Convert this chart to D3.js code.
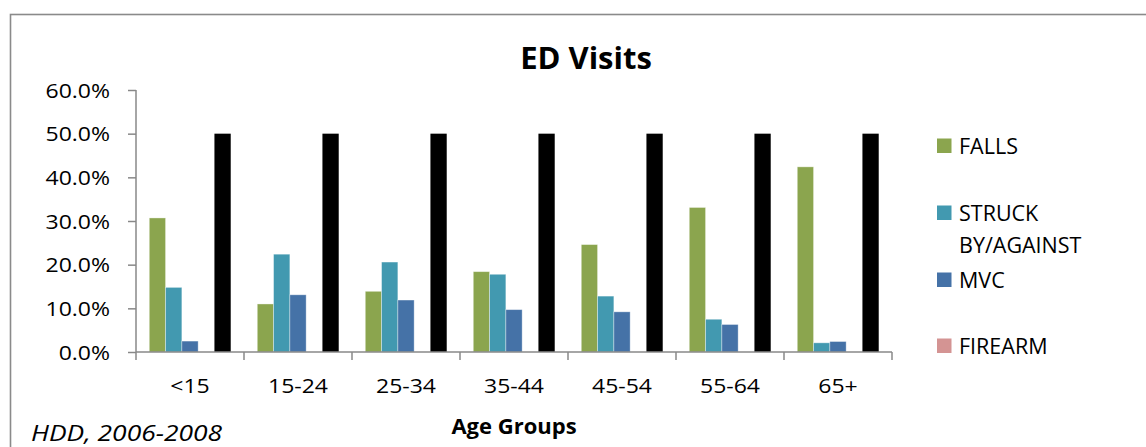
<!DOCTYPE html>
<html>
<head>
<meta charset="utf-8">
<script src="https://cdn.jsdelivr.net/npm/d3@7"></script>
<style>
  html, body { margin: 0; padding: 0; background: #fff; }
  svg { display: block; }
  text { font-family: "Open Sans", sans-serif; fill: #000; }
</style>
</head>
<body>
<svg id="chart" width="1146" height="447"></svg>
<script>
// ---- data ----
const categories = ["<15", "15-24", "25-34", "35-44", "45-54", "55-64", "65+"];
const falls   = [30.7, 11.0, 13.9, 18.4, 24.6, 33.1, 42.4];
const struck  = [14.8, 22.4, 20.6, 17.8, 12.8,  7.5,  2.1];
const mvc     = [ 2.5, 13.1, 11.9,  9.7,  9.2,  6.3,  2.4];
const firearm = [ 0,    0,    0,    0,    0,    0,    0  ];
const series5 = [50,   50,   50,   50,   50,   50,   50  ];
const seriesNames  = ["FALLS", "STRUCK BY/AGAINST", "MVC", "FIREARM", "Series5"];
const legendNames  = ["FALLS", "STRUCK BY/AGAINST", "MVC", "FIREARM"];
const yTicks = [0, 10, 20, 30, 40, 50, 60];
const titleText = "ED Visits";
const xTitleText = "Age Groups";
const sourceText = "HDD, 2006-2008";

// ---- style ----
const colors = ["#8BA54E", "#4299B0", "#4572A7", "#D49493", "#000000"];
const axisColor = "#888888";

const svg = d3.select("#chart");
const plot = { left: 136, right: 892, top: 90, bottom: 352 };

// outer frame (partially visible)
svg.append("rect")
  .attr("x", 10.5).attr("y", 14.5)
  .attr("width", 1300).attr("height", 600)
  .attr("fill", "none").attr("stroke", "#8a8a8a").attr("stroke-width", 1.6);

const x0 = d3.scaleBand().domain(categories).range([plot.left, plot.right]).padding(0);
const x1 = d3.scaleBand().domain(seriesNames).range([0, x0.bandwidth()])
  .paddingInner(0).paddingOuter(0.815);
const y = d3.scaleLinear().domain([0, 60]).range([plot.bottom, plot.top]);

const allSeries = [falls, struck, mvc, firearm, series5];

// bars
const groups = svg.append("g").selectAll("g")
  .data(categories).join("g")
  .attr("transform", d => `translate(${x0(d)},0)`);

groups.selectAll("rect")
  .data((c, i) => seriesNames.map((s, k) => ({ s, k, v: allSeries[k][i] })))
  .join("rect")
  .attr("x", d => x1(d.s))
  .attr("width", x1.bandwidth())
  .attr("y", d => y(d.v))
  .attr("height", d => y(0) - y(d.v))
  .attr("fill", d => colors[d.k])
  .attr("stroke", d => d.k === 4 ? "none" : "rgba(255,255,255,0.45)")
  .attr("stroke-width", 0.8);

// y axis
const yAxis = d3.axisLeft(y).tickValues(yTicks).tickSize(8).tickPadding(18)
  .tickFormat(d => d.toFixed(1) + "%");
const gy = svg.append("g").attr("transform", `translate(${plot.left},0)`).call(yAxis);
gy.select(".domain").attr("stroke", axisColor).attr("stroke-width", 1.5)
  .attr("d", `M0,${plot.top}V${plot.bottom}`);
gy.selectAll(".tick line").attr("stroke", axisColor).attr("stroke-width", 1.5);
gy.selectAll(".tick text")
  .attr("font-family", "Open Sans").attr("font-size", 19.5)
  .attr("fill", "#000").attr("dy", "0.36em")
  .attr("transform", function () {
    const xx = +d3.select(this).attr("x");
    return `translate(${xx},0) scale(1.18,1) translate(${-xx},0)`;
  });

// x axis: ticks at category boundaries
const boundaries = categories.map(c => x0(c)).concat([plot.right]);
const gx = svg.append("g");
gx.append("line")
  .attr("x1", plot.left).attr("x2", plot.right)
  .attr("y1", plot.bottom).attr("y2", plot.bottom)
  .attr("stroke", axisColor).attr("stroke-width", 1.5);
gx.selectAll("line.tk").data(boundaries).join("line").attr("class", "tk")
  .attr("x1", d => d).attr("x2", d => d)
  .attr("y1", plot.bottom).attr("y2", plot.bottom + 8)
  .attr("stroke", axisColor).attr("stroke-width", 1.5);
gx.selectAll("text").data(categories).join("text")
  .attr("text-anchor", "middle")
  .attr("font-size", 19.5)
  .attr("transform", d => `translate(${x0(d) + x0.bandwidth() / 2},393) scale(1.18,1)`)
  .text(d => d);

// title
svg.append("text")
  .attr("x", 586).attr("y", 69)
  .attr("text-anchor", "middle")
  .attr("font-size", 31).attr("font-weight", "bold")
  .text(titleText);

// x axis title
svg.append("text")
  .attr("x", (plot.left + plot.right) / 2).attr("y", 434)
  .attr("text-anchor", "middle")
  .attr("font-size", 22).attr("font-weight", "bold")
  .text(xTitleText);

// source note
svg.append("text")
  .attr("transform", "translate(31,441) scale(1.2,1)")
  .attr("font-size", 22).attr("font-style", "italic")
  .text(sourceText);

// legend
const legendY = [145.5, 212.5, 279.5, 345.5];
const lg = svg.append("g");
legendNames.forEach((name, i) => {
  const g = lg.append("g").attr("transform", `translate(937,${legendY[i]})`);
  g.append("rect").attr("x", 0).attr("y", -7).attr("width", 14.5).attr("height", 14.5)
    .attr("fill", colors[i]);
  const t = g.append("text").attr("x", 22).attr("y", 8.5).attr("font-size", 21.5);
  if (name === "STRUCK BY/AGAINST") {
    t.append("tspan").attr("x", 22).text("STRUCK");
    t.append("tspan").attr("x", 22).attr("dy", 32).text("BY/AGAINST");
  } else {
    t.text(name);
  }
});
</script>
</body>
</html>
